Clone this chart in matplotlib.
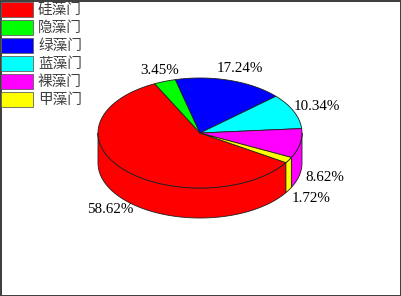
#!/usr/bin/env python
# -*- coding: utf8 -*-

import matplotlib
matplotlib.use('Agg')
import matplotlib.pyplot as plt
import numpy as np
from matplotlib.patches import Polygon, Rectangle

names = ['硅藻门', '隐藻门', '绿藻门', '蓝藻门', '裸藻门', '甲藻门']
counts = [34, 2, 10, 6, 5, 1]
colors = ['#ff0000', '#00ff00', '#0000ff', '#00ffff', '#ff00ff', '#ffff00']

# pie geometry in pixel coords (y grows downward)
cx, cy = 200, 133
ra, rb = 102, 55
depth = 30
start = -32.6


def pt(t, r=1.0, dz=0):
    t = np.radians(t)
    return cx + r * ra * np.cos(t), cy - r * rb * np.sin(t) + dz


def arc(t1, t2, dz=0):
    ts = np.linspace(t1, t2, max(int(abs(t2 - t1)), 2) + 1)
    return [pt(t, dz=dz) for t in ts]


fig = plt.figure(figsize=(4.01, 2.96), dpi=100, linewidth=2, edgecolor='#404040')
ax = fig.add_axes([0, 0, 1, 1])
ax.set_xlim(0, 401)
ax.set_ylim(296, 0)
ax.axis('off')

fracs = np.array(counts, dtype=float) / sum(counts)
edges = start - np.concatenate([[0], np.cumsum(fracs) * 360.0])

# wedges go clockwise, red first
for i, clr in enumerate(colors):
    t_hi, t_lo = edges[i], edges[i + 1]
    # outer wall, only the front half (sin < 0)
    for k in (-1, 0, 1):
        lo = max(t_lo, 180 + 360 * k - 360)
        hi = min(t_hi, 360 * k)
        if hi > lo:
            ptsw = arc(lo, hi) + arc(hi, lo, dz=depth)
            ax.add_patch(Polygon(ptsw, closed=True, fc=clr, ec='#202020', lw=0.6))
    top = [(cx, cy)] + arc(t_hi, t_lo)
    ax.add_patch(Polygon(top, closed=True, fc=clr, ec='#202020', lw=0.6))

    mid = (t_hi + t_lo) / 2.0
    lx, ly = pt(mid, r=1.22)
    if np.sin(np.radians(mid)) < 0:
        ly += depth + 2
    ax.text(lx + 3, ly, '%.2f%%' % (fracs[i] * 100), fontsize=10.8,
            family='Liberation Serif', ha='center', va='center', color='black')

# legend
for i, (nm, clr) in enumerate(zip(names, colors)):
    ax.add_patch(Rectangle((1, 2 + 18 * i), 32, 15, fc=clr, ec='#606060', lw=0.6))
    ax.text(38, 10 + 18 * i, nm, fontsize=10.5, family=['Noto Sans CJK SC', 'DejaVu Sans'],
            ha='left', va='center', color='#404040')

fig.savefig('out.png', dpi=100, edgecolor=fig.get_edgecolor())
